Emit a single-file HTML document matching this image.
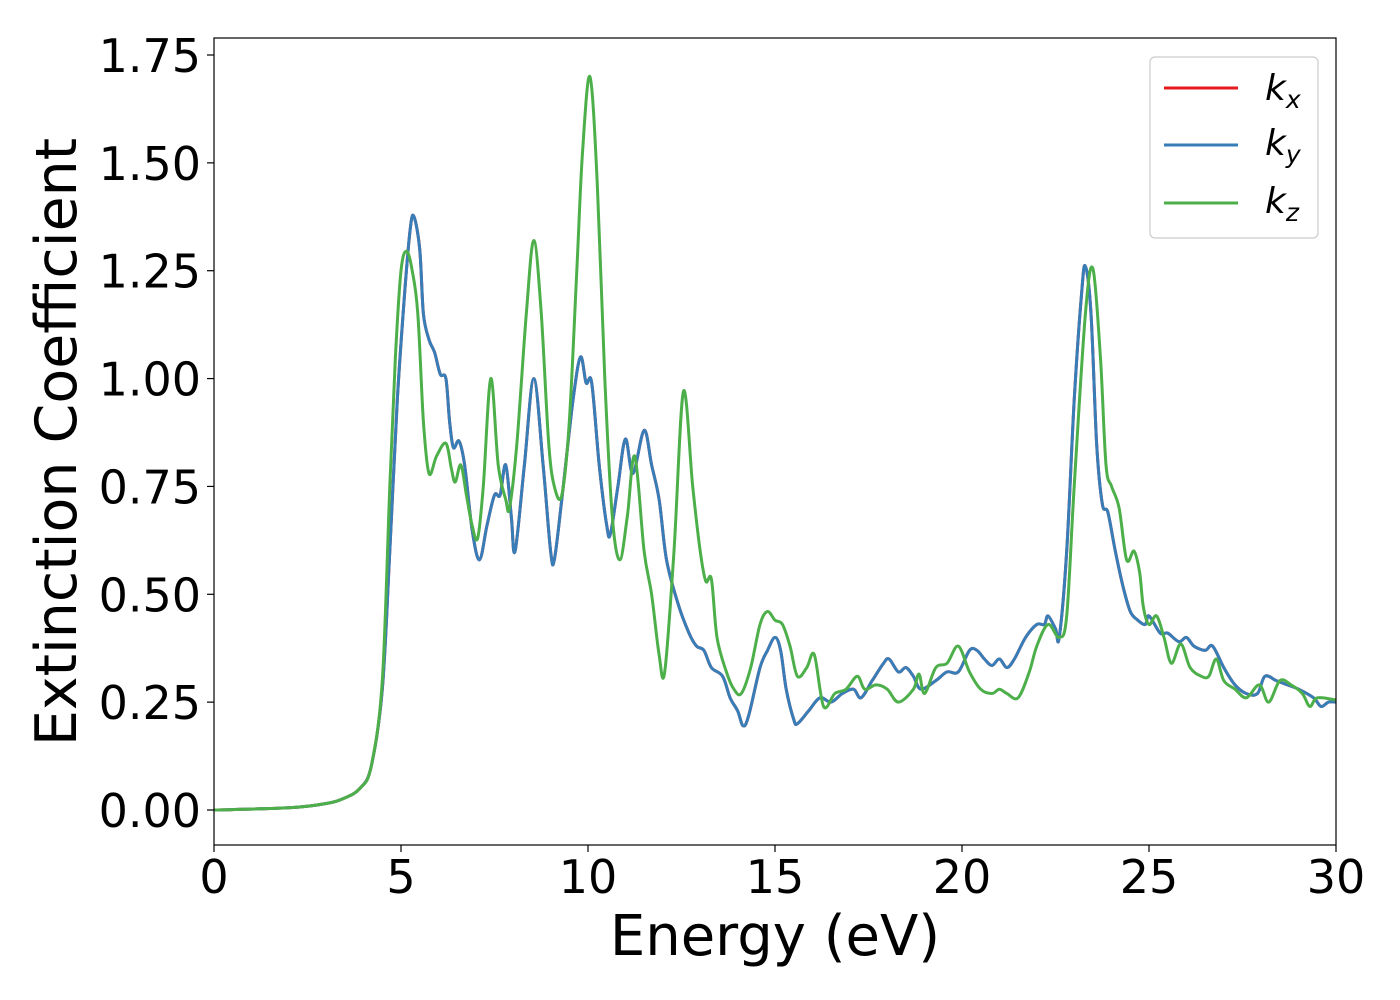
<!DOCTYPE html>
<html><head><meta charset="utf-8"><style>
html,body{margin:0;padding:0;background:#fff;}
svg{display:block;font-family:"DejaVu Sans","Liberation Sans",sans-serif;}
</style></head><body>
<svg id="chart" width="1400" height="1000" viewBox="0 0 1400 1000" xmlns="http://www.w3.org/2000/svg">
<g id="axes"></g>
<g id="series"></g>
<rect x="214" y="38" width="1122" height="807" fill="none" stroke="#000" stroke-width="1.2"/>
<text x="775" y="955" font-size="56" text-anchor="middle">Energy (eV)</text>
<text transform="translate(76,442) rotate(-90)" font-size="57" text-anchor="middle">Extinction Coefficient</text>
<g>
<rect x="1150" y="57" width="168" height="181" rx="5" fill="#fff" stroke="#ccc" stroke-width="1.2"/>
<line x1="1164" y1="88" x2="1238" y2="88" stroke="#e41a1c" stroke-width="3"/>
<text x="1265" y="100" font-size="36" font-style="italic">k<tspan font-size="25" dy="8">x</tspan></text>
<line x1="1164" y1="145" x2="1238" y2="145" stroke="#377eb8" stroke-width="3"/>
<text x="1265" y="155" font-size="36" font-style="italic">k<tspan font-size="25" dy="8">y</tspan></text>
<line x1="1164" y1="203" x2="1238" y2="203" stroke="#4daf4a" stroke-width="3"/>
<text x="1265" y="213" font-size="36" font-style="italic">k<tspan font-size="25" dy="8">z</tspan></text>
</g>
</svg>
<script>
const xTicks = [0,5,10,15,20,25,30];
const yTicks = [0,0.25,0.5,0.75,1.0,1.25,1.5,1.75];
const yTickLabels = ["0.00","0.25","0.50","0.75","1.00","1.25","1.50","1.75"];
const energyXY = [0,2,3,3.5,3.9,4.2,4.5,4.7,4.9,5.1,5.25,5.35,5.5,5.6,5.75,5.9,6.05,6.2,6.3,6.4,6.55,6.7,6.9,7.1,7.3,7.5,7.65,7.8,7.95,8.05,8.3,8.55,8.8,9.0,9.1,9.3,9.6,9.8,9.95,10.1,10.3,10.5,10.6,10.8,11.0,11.2,11.5,11.7,11.9,12.1,12.4,12.7,12.9,13.1,13.3,13.6,13.8,14.0,14.15,14.3,14.6,14.8,15.0,15.15,15.3,15.5,15.6,15.9,16.2,16.5,16.8,17.1,17.3,17.6,17.9,18.05,18.3,18.5,18.7,18.9,19.3,19.6,19.9,20.2,20.4,20.6,20.8,21.0,21.2,21.4,21.7,22.0,22.2,22.3,22.5,22.6,22.8,23.0,23.2,23.3,23.45,23.6,23.75,23.9,24.1,24.3,24.5,24.7,24.9,25.0,25.3,25.5,25.8,26.0,26.2,26.5,26.7,27.0,27.3,27.6,27.9,28.1,28.4,28.7,29.0,29.4,29.6,29.8,30];
const kxyValues = [0,0.005,0.015,0.028,0.05,0.1,0.28,0.6,0.95,1.2,1.35,1.375,1.3,1.15,1.09,1.06,1.01,1.0,0.9,0.84,0.855,0.8,0.65,0.58,0.66,0.73,0.73,0.8,0.68,0.6,0.8,1.0,0.8,0.6,0.58,0.72,0.95,1.05,0.99,0.99,0.8,0.66,0.64,0.75,0.86,0.78,0.88,0.8,0.72,0.58,0.48,0.41,0.38,0.37,0.33,0.31,0.26,0.23,0.195,0.22,0.33,0.37,0.4,0.37,0.28,0.21,0.2,0.23,0.26,0.25,0.27,0.28,0.26,0.3,0.34,0.35,0.32,0.33,0.31,0.28,0.3,0.32,0.32,0.37,0.37,0.35,0.335,0.35,0.33,0.35,0.4,0.43,0.43,0.45,0.42,0.4,0.6,0.95,1.2,1.26,1.15,0.85,0.71,0.69,0.6,0.52,0.46,0.44,0.43,0.45,0.41,0.41,0.39,0.4,0.38,0.37,0.38,0.33,0.29,0.27,0.27,0.31,0.3,0.29,0.28,0.26,0.24,0.25,0.25];
const energyZ = [0,2,3,3.5,3.9,4.2,4.5,4.7,4.85,5.0,5.15,5.3,5.45,5.6,5.75,5.95,6.2,6.35,6.45,6.6,6.75,6.9,7.05,7.2,7.4,7.6,7.8,7.9,8.1,8.35,8.55,8.75,8.95,9.1,9.3,9.5,9.7,9.85,10.05,10.25,10.45,10.65,10.85,11.05,11.25,11.5,11.7,11.9,12.05,12.3,12.55,12.8,13.0,13.15,13.3,13.45,13.7,13.9,14.1,14.35,14.6,14.8,15.0,15.2,15.4,15.6,15.85,16.05,16.3,16.6,16.9,17.2,17.4,17.7,18.0,18.3,18.7,18.85,19.0,19.3,19.6,19.9,20.2,20.5,20.8,21.0,21.2,21.5,21.8,22.0,22.3,22.6,22.8,23.0,23.3,23.5,23.7,23.85,24.0,24.2,24.4,24.6,24.75,24.85,25.0,25.2,25.4,25.6,25.85,26.1,26.4,26.6,26.8,27.0,27.3,27.6,27.95,28.2,28.5,28.8,29.1,29.3,29.5,30];
const kzValues = [0,0.005,0.015,0.028,0.05,0.1,0.3,0.75,1.05,1.25,1.295,1.25,1.15,0.9,0.78,0.82,0.85,0.79,0.76,0.8,0.73,0.66,0.63,0.75,1.0,0.8,0.72,0.7,0.85,1.15,1.32,1.15,0.85,0.75,0.73,0.9,1.25,1.52,1.7,1.45,1.0,0.68,0.58,0.68,0.82,0.6,0.5,0.36,0.32,0.6,0.97,0.75,0.6,0.53,0.535,0.4,0.32,0.28,0.27,0.33,0.43,0.46,0.44,0.43,0.38,0.31,0.33,0.36,0.24,0.27,0.28,0.31,0.28,0.29,0.28,0.25,0.28,0.315,0.27,0.33,0.34,0.38,0.32,0.28,0.27,0.28,0.27,0.26,0.32,0.38,0.43,0.4,0.45,0.75,1.15,1.255,1.05,0.8,0.75,0.7,0.58,0.6,0.55,0.47,0.43,0.45,0.4,0.34,0.385,0.33,0.31,0.31,0.35,0.3,0.28,0.26,0.29,0.25,0.3,0.29,0.27,0.24,0.26,0.255];

const NS="http://www.w3.org/2000/svg";
function xs(e){return 214+e*(1122/30);}
function ys(v){return 810-v*(755/1.75);}
const axes=document.getElementById('axes');
xTicks.forEach(t=>{
  const l=document.createElementNS(NS,'line');
  
  
  l.setAttribute('x1',xs(t));l.setAttribute('x2',xs(t));l.setAttribute('y1',845);l.setAttribute('y2',852);l.setAttribute('stroke','#000');l.setAttribute('stroke-width','1.2');
  axes.appendChild(l);
  const tx=document.createElementNS(NS,'text');
  
  
  tx.setAttribute('x',xs(t));tx.setAttribute('y',893);tx.setAttribute('font-size','46');tx.setAttribute('text-anchor','middle');
  tx.textContent=String(t);axes.appendChild(tx);
});
yTicks.forEach((t,i)=>{
  const l=document.createElementNS(NS,'line');
  
  
  l.setAttribute('x1',207);l.setAttribute('x2',214);l.setAttribute('y1',ys(t));l.setAttribute('y2',ys(t));l.setAttribute('stroke','#000');l.setAttribute('stroke-width','1.2');
  axes.appendChild(l);
  const tx=document.createElementNS(NS,'text');
  
  
  tx.setAttribute('x',201);tx.setAttribute('y',ys(t)+17);tx.setAttribute('font-size','46');tx.setAttribute('text-anchor','end');
  tx.textContent=yTickLabels[i];axes.appendChild(tx);
});
function pathFor(es,vs){
  const p=es.map((e,i)=>[xs(e),ys(vs[i])]);
  let d='M'+p[0][0].toFixed(1)+','+p[0][1].toFixed(1);
  for(let i=0;i<p.length-1;i++){
    const p0=p[Math.max(0,i-1)],p1=p[i],p2=p[i+1],p3=p[Math.min(p.length-1,i+2)];
    const c1=[p1[0]+(p2[0]-p0[0])/6,p1[1]+(p2[1]-p0[1])/6];
    const c2=[p2[0]-(p3[0]-p1[0])/6,p2[1]-(p3[1]-p1[1])/6];
    d+=' C'+c1[0].toFixed(1)+','+c1[1].toFixed(1)+' '+c2[0].toFixed(1)+','+c2[1].toFixed(1)+' '+p2[0].toFixed(1)+','+p2[1].toFixed(1);
  }
  return d;
}
const ser=document.getElementById('series');
function addLine(name,es,vs,color){
  const p=document.createElementNS(NS,'path');
  
  
  p.setAttribute('d',pathFor(es,vs));p.setAttribute('fill','none');p.setAttribute('stroke',color);p.setAttribute('stroke-width','3');p.setAttribute('stroke-linejoin','round');
  ser.appendChild(p);
}
addLine('kx-line',energyXY,kxyValues,'#e41a1c');
addLine('ky-line',energyXY,kxyValues,'#377eb8');
addLine('kz-line',energyZ,kzValues,'#4daf4a');
</script>
</body></html>
